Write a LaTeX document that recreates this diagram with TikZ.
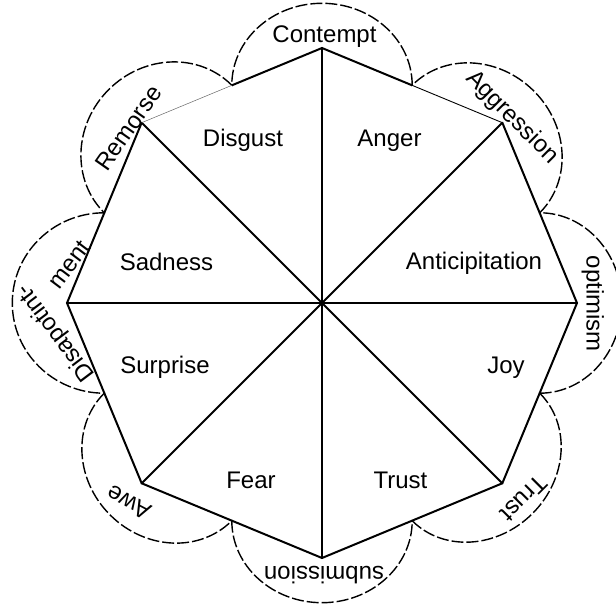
\documentclass[tikz,border=0pt]{standalone}
\usepackage{fontspec}
\setmainfont{Liberation Sans}
\begin{document}
\begin{tikzpicture}[x=1pt,y=1pt,
  spoke/.style={line width=2pt, line cap=round, line join=round},
  rim/.style={line width=2pt, line join=miter},
  petal/.style={line width=1.4pt, dash pattern=on 12pt off 3pt},
  lab/.style={font=\fontsize{24}{24}\selectfont, inner sep=0pt, text height=17pt, text depth=0pt, anchor=center}
]
\useasboundingbox (-322,-304) rectangle (294,303);
\coordinate (O) at (0,0);
\foreach \i in {0,...,7} {
  \coordinate (v\i) at ({\i*45}:255);
  \coordinate (m\i) at ({\i*45+22.5}:235.6);
}
% petals
\foreach \i/\a in {0/82,1/82,2/82,3/84,4/92,5/82,6/82,7/80} {
  \draw[petal, shift={({\i*45}:217.7)}, rotate=\i*45]
    (0,-90.2) arc[start angle=-90, end angle=90, x radius=\a pt, y radius=90.2pt];
}
% spokes
\foreach \i in {0,...,7} \draw[spoke] (O) -- (v\i);
% rim
\draw[rim] (m2) -- (v2) -- (m1);
\draw[rim] (v3) -- (v4) -- (v5) -- (v6) -- (v7) -- (v0) -- (v1);
\draw[line width=0.9pt] (v1) -- (m1);
\draw[line width=0.5pt, black!60] (m2) -- (v3);
% inner labels
\node[lab] (disgust) at (-79,164.5) {Disgust};
\node[lab] (anger) at (67.5,164.5) {Anger};
\node[lab] (sadness) at (-155.5,40.5) {Sadness};
\node[lab] (antic) at (152,42) {Anticipitation};
\node[lab] (surprise) at (-157,-62.5) {Surprise};
\node[lab] (joy) at (184,-62.5) {Joy};
\node[lab] (fear) at (-71,-177) {Fear};
\node[lab] (trust) at (78.5,-177) {Trust};
% petal labels
\node[lab, rotate=0] (contempt) at (2.5,269) {Contempt};
\node[lab, rotate=-45] (aggr) at (191.5,187) {Aggression};
\node[lab, rotate=-90] (optim) at (273,-1) {optimism};
\node[lab, rotate=-135] (trustp) at (202,-196) {Trust};
\node[lab, rotate=180] (subm) at (2,-272) {submission};
\node[lab, rotate=152] (awe) at (-193.5,-200) {Awe};
\node[lab, rotate=127] (disap) at (-268,-31) {Disapotint-};
\node[lab, rotate=53] (ment) at (-253,39) {ment};
\node[lab, rotate=55] (remorse) at (-194,175) {Remorse};
\end{tikzpicture}
\end{document}
